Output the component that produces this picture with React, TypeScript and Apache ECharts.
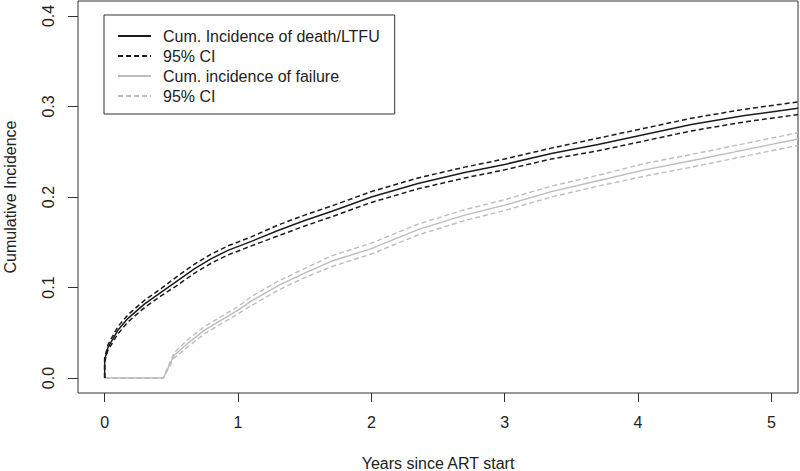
import React, { useEffect, useRef } from "react";
import * as echarts from "echarts";

// Cumulative incidence of death / LTFU (black)
const timeDeath = [0, 0, 0.025, 0.1, 0.175, 0.3, 0.425, 0.55, 0.675, 0.8, 0.925, 1.1, 1.3, 1.5, 1.7, 2.0, 2.35, 2.7, 3.0, 3.35, 3.7, 4.05, 4.4, 4.8, 5.2];
const death = [0, 0.02, 0.034, 0.053, 0.066, 0.082, 0.095, 0.108, 0.121, 0.132, 0.141, 0.151, 0.163, 0.174, 0.184, 0.2, 0.215, 0.227, 0.236, 0.248, 0.258, 0.269, 0.28, 0.29, 0.298];
const deathLo = [0, 0.018, 0.031, 0.049, 0.062, 0.078, 0.091, 0.103, 0.116, 0.127, 0.136, 0.146, 0.157, 0.168, 0.178, 0.194, 0.209, 0.221, 0.23, 0.242, 0.251, 0.262, 0.273, 0.283, 0.291];
const deathHi = [0, 0.022, 0.037, 0.057, 0.07, 0.086, 0.099, 0.113, 0.126, 0.137, 0.146, 0.156, 0.169, 0.18, 0.19, 0.206, 0.221, 0.233, 0.242, 0.254, 0.265, 0.276, 0.287, 0.297, 0.305];

// Cumulative incidence of failure (grey)
const timeFail = [0, 0.44, 0.52, 0.62, 0.75, 0.875, 1.0, 1.1, 1.3, 1.5, 1.7, 2.0, 2.35, 2.7, 3.0, 3.35, 3.7, 4.05, 4.4, 4.8, 5.2];
const fail = [0, 0, 0.025, 0.038, 0.053, 0.064, 0.075, 0.085, 0.102, 0.116, 0.129, 0.143, 0.164, 0.18, 0.191, 0.206, 0.218, 0.23, 0.24, 0.252, 0.264];
const failLo = [0, 0, 0.022, 0.034, 0.049, 0.06, 0.071, 0.08, 0.097, 0.111, 0.123, 0.137, 0.158, 0.174, 0.185, 0.2, 0.212, 0.223, 0.233, 0.245, 0.257];
const failHi = [0, 0, 0.028, 0.042, 0.057, 0.068, 0.079, 0.09, 0.107, 0.121, 0.135, 0.149, 0.17, 0.186, 0.197, 0.212, 0.224, 0.237, 0.247, 0.259, 0.271];

const xTicks = [0, 1, 2, 3, 4, 5];
const yTicks = [0, 0.1, 0.2, 0.3, 0.4];

const legendNames: Record<string, string> = {
  death: "Cum. Incidence of death/LTFU",
  ciDeath: "95% CI",
  fail: "Cum. incidence of failure",
  ciFail: "95% CI",
};

const zip = (xs: number[], ys: number[]) => xs.map((x, i) => [x, ys[i]]);

const FONT = "'Liberation Sans', Arial, sans-serif";
const BLACK = "#1c1c1c";
const GREY = "#bdbdbd";

export default function App() {
  const ref = useRef<HTMLDivElement>(null);
  useEffect(() => {
    if (!ref.current) return;
    const chart = echarts.init(ref.current, null, { renderer: "svg" });
    const line = (name: string, data: number[][], color: string, dashed: boolean, width: number) => ({
      type: "line",
      name,
      data,
      symbol: "none",
      legendIcon: "none",
      lineStyle: { color, width, type: dashed ? [5, 3] : "solid" },
      itemStyle: { color },
      silent: true,
    });
    chart.setOption({
      animation: false,
      backgroundColor: "#fff",
      textStyle: { fontFamily: FONT },
      grid: {
        left: 78,
        right: 2,
        top: 1,
        bottom: 78,
        containLabel: false,
        outerBoundsMode: "none",
        show: true,
        borderColor: "#333",
        borderWidth: 1,
      },
      legend: {
        orient: "vertical",
        left: 104,
        top: 15,
        padding: [13, 15, 10, 13],
        itemGap: 4,
        itemWidth: 33,
        itemHeight: 16,
        borderColor: "#333",
        borderWidth: 1,
        itemStyle: { opacity: 0 },
        data: ["death", "ciDeath", "fail", "ciFail"],
        formatter: (n: string) => legendNames[n],
        textStyle: { fontSize: 16, color: "#222", fontFamily: FONT, padding: [0, 0, 0, 7] },
        selectedMode: false,
      },
      xAxis: {
        type: "value",
        min: -0.2,
        max: 5.2,
        axisLine: { show: false, onZero: false },
        splitLine: { show: false },
        axisTick: { show: true, customValues: xTicks, length: 9, lineStyle: { color: "#333" } },
        axisLabel: { customValues: xTicks, fontSize: 16, color: "#222", margin: 21, fontFamily: FONT },
        name: "Years since ART start",
        nameLocation: "middle",
        nameGap: 62,
        nameTextStyle: { fontSize: 16, color: "#222", fontFamily: FONT },
      },
      yAxis: {
        type: "value",
        min: -0.0165,
        max: 0.4165,
        axisLine: { show: false, onZero: false },
        splitLine: { show: false },
        axisTick: { show: true, customValues: yTicks, length: 10, lineStyle: { color: "#333" } },
        axisLabel: {
          customValues: yTicks,
          rotate: 90,
          fontSize: 16,
          color: "#222",
          margin: 22,
          fontFamily: FONT,
          formatter: (v: number) => v.toFixed(1),
        },
        name: "Cumulative Incidence",
        nameLocation: "middle",
        nameRotate: 90,
        nameGap: 60,
        nameTextStyle: { fontSize: 16, color: "#222", fontFamily: FONT },
      },
      series: [
        line("fail", zip(timeFail, fail), GREY, false, 1.4),
        line("ciFail", zip(timeFail, failLo), GREY, true, 1.4),
        line("ciFail", zip(timeFail, failHi), GREY, true, 1.4),
        line("death", zip(timeDeath, death), BLACK, false, 1.5),
        line("ciDeath", zip(timeDeath, deathLo), BLACK, true, 1.5),
        line("ciDeath", zip(timeDeath, deathHi), BLACK, true, 1.5),
      ],
    });
    return () => chart.dispose();
  }, []);
  return <div ref={ref} style={{ position: "fixed", left: 0, top: 0, width: 800, height: 471 }} />;
}
